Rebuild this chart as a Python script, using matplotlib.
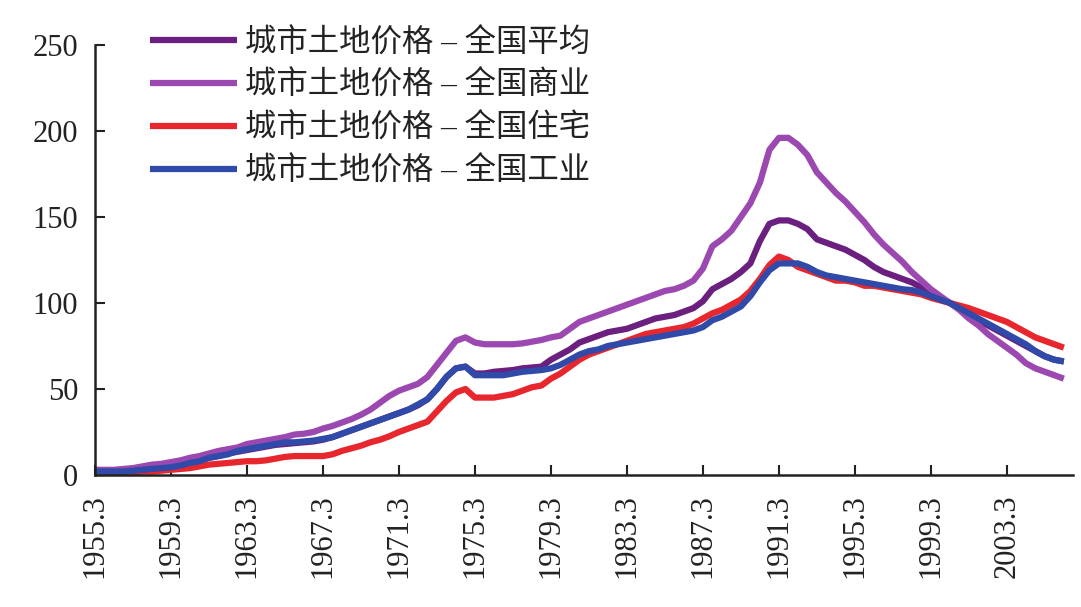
import numpy as np
import matplotlib
matplotlib.use("Agg")
import matplotlib.pyplot as plt

################################################################################
# DATOS  (semestral, 1955.3 - 2006.3, 2000 = 100)
#------------------------------------------------------------------------------#

anios = np.arange(1955, 2007)
periodos = []
for a in anios:
    periodos.append("%d.3" % a)
    periodos.append("%d.9" % a)
periodos = periodos[:103]

promedio = [2, 2, 2, 2.5, 3, 3.5, 4, 4.5, 5, 6, 7, 8.5, 10, 11, 12.5, 13.5,
            14.5, 15.5, 16.5, 17.5, 18, 18.5, 19, 19.5, 20.5, 22, 24, 26, 28, 30, 32, 34,
            36, 38, 40.5, 44, 50, 57, 62, 63, 59, 59, 60, 60.5, 61, 62, 62.5, 63,
            67, 70, 73, 77, 79, 81, 83, 84, 85, 87, 89, 91, 92, 93, 95, 97,
            101, 108, 111, 114, 118, 123, 136, 146, 148, 148, 146, 143, 137, 135, 133, 131,
            128, 125, 121, 118, 116, 114, 112, 109, 106, 103, 100, 97, 94, 90, 87, 84,
            81, 78, 75, 72, 69, 67, 66]

comercial = [3, 3, 3, 3.5, 4, 5, 6, 6.5, 7.5, 8.5, 10, 11, 12.5, 14, 15, 16,
             18, 19, 20, 21, 22, 23.5, 24, 25, 27, 28.5, 30.5, 32.5, 35, 38, 42, 46,
             49, 51, 53, 57, 64, 71, 78, 80, 77, 76, 76, 76, 76, 76.5, 77.5, 78.5,
             80, 81, 85, 89, 91, 93, 95, 97, 99, 101, 103, 105, 107, 108, 110, 113,
             120, 133, 137, 142, 150, 158, 170, 189, 196, 196, 192, 186, 176, 170, 164, 159,
             153, 147, 140, 134, 129, 124, 118, 113, 108, 104, 100, 96, 91, 87, 82, 78,
             74, 70, 65, 62, 60, 58, 56]

residencial = [1, 1, 1, 1, 1.5, 2, 2, 2.5, 3, 3.5, 4, 5, 6, 6.5, 7, 7.5,
               8, 8, 8.5, 9.5, 10.5, 11, 11, 11, 11, 12, 14, 15.5, 17, 19, 20.5, 22.5,
               25, 27, 29, 31, 37, 43, 48, 50, 45, 45, 45, 46, 47, 49, 51, 52,
               56, 59, 63, 67, 70, 72, 74, 76, 78, 80, 82, 83, 84, 85, 86, 88,
               91, 94, 96, 99, 102, 107, 114, 122, 127, 125, 121, 119, 117, 115, 113, 113,
               112, 110, 110, 109, 108, 107, 106, 105, 103, 101.5, 100, 98.5, 97, 95, 93, 91,
               89, 86, 83, 80, 78, 76, 74]

industrial = [2, 2, 2, 2, 2.5, 3, 3.5, 4, 4.5, 5.5, 7, 8, 10, 11, 12, 14,
              15, 16, 17, 18, 19, 19, 19.5, 20, 21, 22, 24, 26, 28, 30, 32, 34,
              36, 38, 41, 44, 50, 57, 62, 63, 58, 58, 58, 58, 59, 60, 60.5, 61,
              62, 64, 67, 70, 72, 73, 75, 76, 77, 78, 79, 80, 81, 82, 83, 84,
              86, 90, 92, 95, 98, 104, 112, 119, 123, 123, 123, 121, 118, 116, 115, 114,
              113, 112, 111, 110, 109, 108, 107.5, 106, 104, 102, 100, 97, 94, 91, 88, 85,
              82, 79, 76, 72, 69, 67, 66]

nombres = ["城市土地价格 – 全国平均", "城市土地价格 – 全国商业",
           "城市土地价格 – 全国住宅", "城市土地价格 – 全国工业"]
colores = ["#6b1f7e", "#9b48b0", "#e8262d", "#2f4aa8"]

################################################################################
# GRAFICO
#------------------------------------------------------------------------------#

plt.rcParams['font.family'] = ['Liberation Serif', 'Noto Sans CJK SC']

fig = plt.figure(figsize=(10.81, 6.07), dpi=100)
ax = fig.add_axes([0.0879, 0.2175, 0.905, 0.7084])

x = np.arange(len(periodos))
series = [promedio, comercial, residencial, industrial]
for datos, nombre, color in zip(series, nombres, colores):
    ax.plot(x, datos, color=color, lw=4.5, label=nombre, solid_capstyle='butt')

ax.set_xlim(0, 103)
ax.set_ylim(0, 250)
ax.set_yticks(range(0, 251, 50))
ax.set_xticks(x[::8])
ax.set_xticklabels(periodos[::8], rotation=90)

for lado in ['top', 'right']:
    ax.spines[lado].set_visible(False)
for lado in ['left', 'bottom']:
    ax.spines[lado].set_linewidth(1.8)
    ax.spines[lado].set_color('#222222')

ax.tick_params(axis='both', direction='in', length=7, width=1.5,
               labelsize=22, colors='#222222')
ax.tick_params(axis='y', pad=12)
ax.tick_params(axis='x', pad=14)

ley = ax.legend(loc='upper left', bbox_to_anchor=(0.118, 0.99),
                bbox_transform=fig.transFigure, frameon=False,
                fontsize=22.6, handlelength=2.8, handletextpad=0.25,
                labelspacing=0.4, borderaxespad=0.3)
for t in ley.get_texts():
    t.set_color('#222222')

fig.savefig("out.png", dpi=100)
